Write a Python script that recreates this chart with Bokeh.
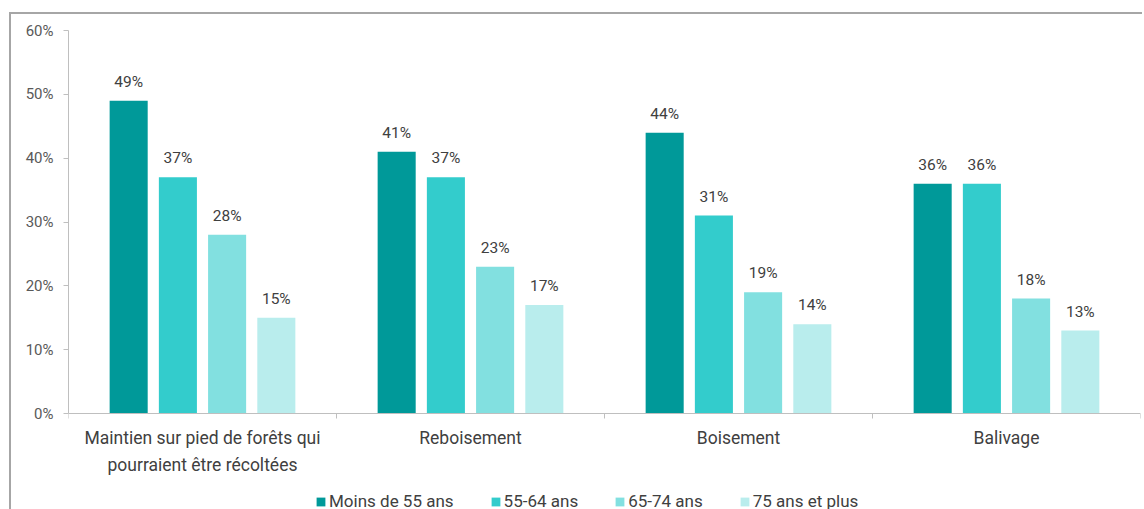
from bokeh.plotting import figure
from bokeh.models import (ColumnDataSource, FixedTicker, Range1d, NumeralTickFormatter,
                          Legend, LegendItem, Span)
from bokeh.embed import file_html
from bokeh.resources import INLINE
from bokeh.core.properties import value

categories = ["Maintien sur pied de forêts qui\npourraient être récoltées", "Reboisement", "Boisement", "Balivage"]
series = ["Moins de 55 ans", "55-64 ans", "65-74 ans", "75 ans et plus"]
values = {
    "Moins de 55 ans": [49, 41, 44, 36],
    "55-64 ans": [37, 37, 31, 36],
    "65-74 ans": [28, 23, 19, 18],
    "75 ans et plus": [15, 17, 14, 13],
}
colors = ["#009999", "#33CCCC", "#82E0E0", "#B9EDED"]
yticks = [0, 10, 20, 30, 40, 50, 60]

FONT = "Roboto"
AXIS_COLOR = "#bfbfbf"

# frame: 383 px for 0..60 %, plus 99 px below zero for category labels and legend
PLOT_PX, BELOW_PX = 383, 99
y_min = -60 * BELOW_PX / PLOT_PX

p = figure(frame_width=1072, frame_height=PLOT_PX + BELOW_PX, output_backend="svg",
           toolbar_location=None, x_range=Range1d(0, 4), y_range=Range1d(y_min, 60),
           min_border_left=57, min_border_right=2, min_border_top=16, min_border_bottom=0)
p.styles = {"border-top": "2px solid #a6a6a6", "border-left": "2px solid #a6a6a6",
            "margin-top": "12px", "margin-left": "9px"}
p.outline_line_color = None
p.grid.visible = False
p.xaxis.visible = False

# y axis
p.yaxis.ticker = FixedTicker(ticks=yticks)
p.yaxis.bounds = (0, 60)
p.yaxis.formatter = NumeralTickFormatter(format="0")
p.yaxis.major_label_overrides = {t: f"{t}%" for t in yticks}
p.yaxis.axis_line_color = AXIS_COLOR
p.yaxis.major_tick_line_color = AXIS_COLOR
p.yaxis.major_tick_out = 5
p.yaxis.major_tick_in = 0
p.yaxis.minor_tick_line_color = None
p.yaxis.major_label_text_font = FONT
p.yaxis.major_label_text_font_size = "15px"
p.yaxis.major_label_text_color = "#595959"
p.yaxis.major_label_standoff = 10

# category (x) axis drawn at zero
p.add_layout(Span(location=0, dimension="width", line_color=AXIS_COLOR, line_width=1))
bounds = list(range(len(categories) + 1))
tick_len = 5 * 60 / PLOT_PX
p.segment(x0=bounds, y0=[0] * len(bounds), x1=bounds, y1=[-tick_len] * len(bounds),
          line_color=AXIS_COLOR, line_width=1)
p.text(x=[i + 0.5 for i in range(len(categories))], y=[0] * len(categories), text=categories,
       text_align="center", text_baseline="top", y_offset=14, text_line_height=1.37,
       text_font=value(FONT), text_font_size="17.5px", text_color="#404040")

offsets = [-0.2755, -0.0918, 0.0918, 0.2755]
width = 0.142
items = []
for i, s in enumerate(series):
    xs = [j + 0.5 + offsets[i] for j in range(len(categories))]
    src = ColumnDataSource(dict(x=xs, top=values[s], lab=[f"{v}%" for v in values[s]]))
    r = p.vbar(x="x", top="top", bottom=0, width=width, source=src,
               fill_color=colors[i], line_color=None)
    p.text(x="x", y="top", text="lab", source=src, text_align="center", text_baseline="bottom",
           y_offset=-10, text_font=value(FONT), text_font_size="15.5px", text_color="#404040")
    items.append(LegendItem(label=s, renderers=[r]))

legend = Legend(items=items, orientation="horizontal", location=(247, 1),
                label_text_font=FONT, label_text_font_size="17px", label_text_color="#404040",
                glyph_width=11, glyph_height=11, label_standoff=3, spacing=36,
                border_line_color=None, background_fill_alpha=0, padding=0, margin=0)
p.add_layout(legend, "center")

open("out.html", "w").write(file_html(p, INLINE))
